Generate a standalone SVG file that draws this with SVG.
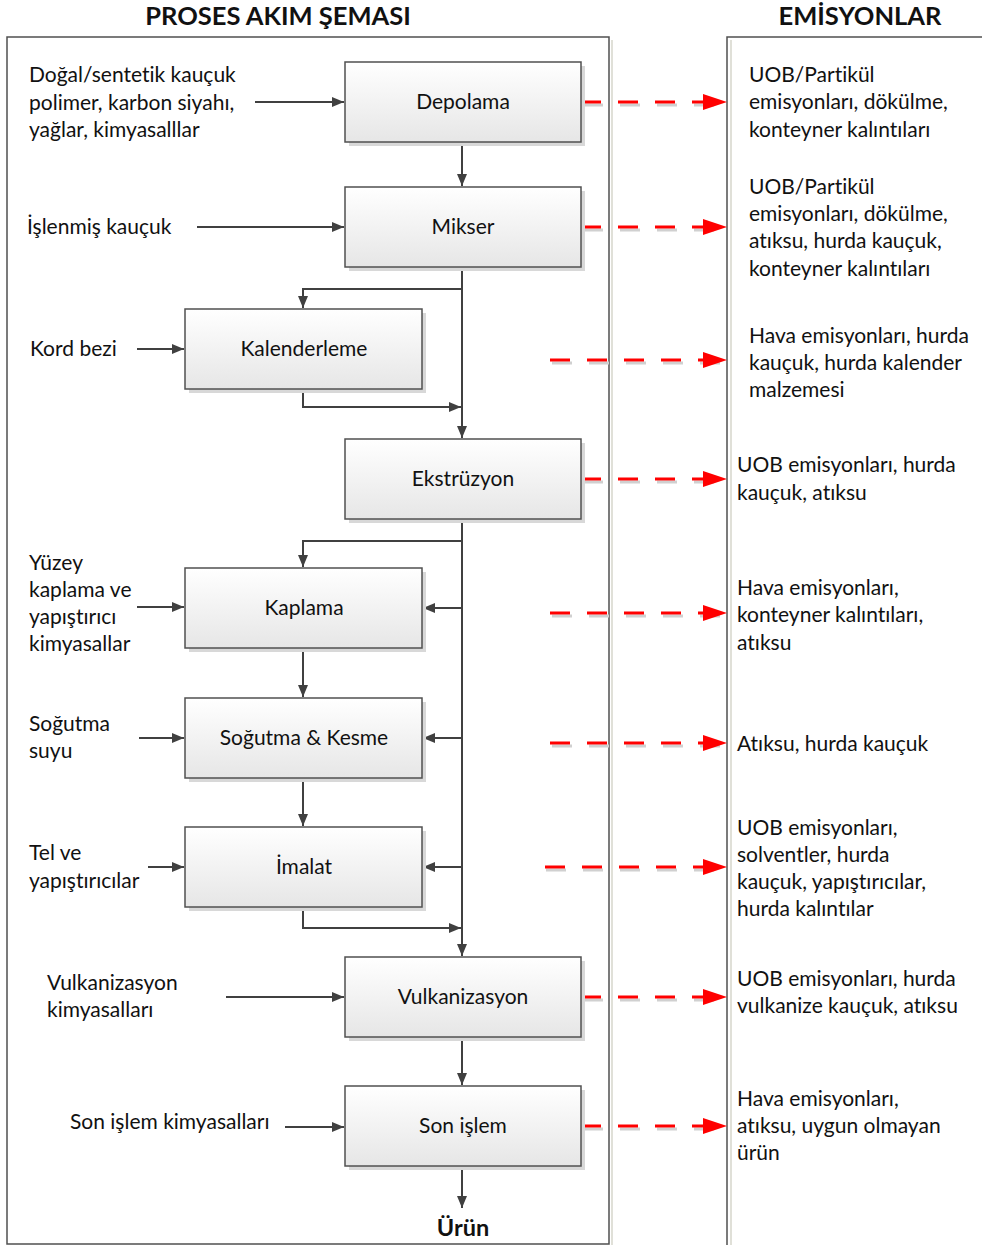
<svg xmlns="http://www.w3.org/2000/svg" width="982" height="1245" viewBox="0 0 982 1245">
<defs>
<linearGradient id="bg" x1="0" y1="0" x2="0" y2="1">
<stop offset="0" stop-color="#ffffff"/>
<stop offset="1" stop-color="#e6e6e6"/>
</linearGradient>
<marker id="ah" markerWidth="12" markerHeight="10" refX="12" refY="5" orient="auto" markerUnits="userSpaceOnUse">
<path d="M0,0 L12,5 L0,10 Z" fill="#404040"/>
</marker>
<marker id="rh" markerWidth="24" markerHeight="16" refX="24" refY="8" orient="auto" markerUnits="userSpaceOnUse">
<path d="M0,0 L24,8 L0,16 Z" fill="#ff0000"/>
</marker>
</defs>
<style>
text{font-family:Lato,"Open Sans","Liberation Sans",sans-serif;font-size:21px;fill:#111;font-variant-ligatures:none}
.t{font-weight:bold;font-size:25.5px;text-anchor:middle}
.c{text-anchor:middle}
.box{fill:url(#bg);stroke:#505050;stroke-width:1.5}
.sh{fill:#d8d8d8}
.ln{fill:none;stroke:#404040;stroke-width:2}
.rd{fill:none;stroke:#ff0000;stroke-width:3;stroke-dasharray:20,17}
.rds{fill:none;stroke:#d0d0d0;stroke-width:3;stroke-dasharray:20,17}
.fr{fill:none;stroke:#505050;stroke-width:1.5}
.frs{fill:none;stroke:#e0e0d8;stroke-width:2}
</style>
<text class="t" x="278" y="25">PROSES AKIM ŞEMASI</text>
<text class="t" x="860" y="25">EMİSYONLAR</text>
<g id="frames">
<path class="frs" d="M612,40 V1245"/>
<path class="fr" d="M7,37 H609 V1244 H7 Z"/>
<path class="frs" d="M731,40 V1245"/>
<path class="fr" d="M982,37 H727 V1245"/>
</g>
<g id="connectors">
<path class="ln" d="M255,102 H344" marker-end="url(#ah)"/>
<path class="ln" d="M197,227 H344" marker-end="url(#ah)"/>
<path class="ln" d="M137,349 H184" marker-end="url(#ah)"/>
<path class="ln" d="M137,607 H184" marker-end="url(#ah)"/>
<path class="ln" d="M139,738 H184" marker-end="url(#ah)"/>
<path class="ln" d="M148,867 H184" marker-end="url(#ah)"/>
<path class="ln" d="M226,997 H344" marker-end="url(#ah)"/>
<path class="ln" d="M285,1127 H344" marker-end="url(#ah)"/>
<path class="ln" d="M462,142 V186" marker-end="url(#ah)"/>
<path class="ln" d="M462,267 V438" marker-end="url(#ah)"/>
<path class="ln" d="M462,289 H303 V308" marker-end="url(#ah)"/>
<path class="ln" d="M303,389 V407 H461" marker-end="url(#ah)"/>
<path class="ln" d="M462,519 V956" marker-end="url(#ah)"/>
<path class="ln" d="M462,541 H303 V567" marker-end="url(#ah)"/>
<path class="ln" d="M462,608 H423" marker-end="url(#ah)"/>
<path class="ln" d="M462,738 H423" marker-end="url(#ah)"/>
<path class="ln" d="M462,867 H423" marker-end="url(#ah)"/>
<path class="ln" d="M303,648 V697" marker-end="url(#ah)"/>
<path class="ln" d="M303,778 V826" marker-end="url(#ah)"/>
<path class="ln" d="M303,907 V928 H461" marker-end="url(#ah)"/>
<path class="ln" d="M462,1037 V1085" marker-end="url(#ah)"/>
<path class="ln" d="M462,1166 V1208" marker-end="url(#ah)"/>
<g id="emissions">
<path class="rds" d="M583,105 H725 M583,230 H725 M552,363 H725 M583,482 H725 M552,616 H725 M552,746 H725 M546,870 H725 M583,1000 H725 M583,1129 H725"/>
<path class="rd" d="M581,102 H727" marker-end="url(#rh)"/>
<path class="rd" d="M581,227 H727" marker-end="url(#rh)"/>
<path class="rd" d="M550,360 H727" marker-end="url(#rh)"/>
<path class="rd" d="M581,479 H727" marker-end="url(#rh)"/>
<path class="rd" d="M550,613 H727" marker-end="url(#rh)"/>
<path class="rd" d="M550,743 H727" marker-end="url(#rh)"/>
<path class="rd" d="M545,867 H727" marker-end="url(#rh)"/>
<path class="rd" d="M581,997 H727" marker-end="url(#rh)"/>
<path class="rd" d="M581,1126 H727" marker-end="url(#rh)"/>
</g>
</g>
<g id="depolama"><rect class="sh" x="349" y="66" width="236" height="80"/><rect class="box" x="345" y="62" width="236" height="80"/><text class="c" x="463" y="109">Depolama</text></g>
<g id="mikser"><rect class="sh" x="349" y="191" width="236" height="80"/><rect class="box" x="345" y="187" width="236" height="80"/><text class="c" x="463" y="234">Mikser</text></g>
<g id="kalenderleme"><rect class="sh" x="189" y="313" width="237" height="80"/><rect class="box" x="185" y="309" width="237" height="80"/><text class="c" x="304" y="356">Kalenderleme</text></g>
<g id="ekstruzyon"><rect class="sh" x="349" y="443" width="236" height="80"/><rect class="box" x="345" y="439" width="236" height="80"/><text class="c" x="463" y="486">Ekstrüzyon</text></g>
<g id="kaplama"><rect class="sh" x="189" y="572" width="237" height="80"/><rect class="box" x="185" y="568" width="237" height="80"/><text class="c" x="304" y="615">Kaplama</text></g>
<g id="sogutma"><rect class="sh" x="189" y="702" width="237" height="80"/><rect class="box" x="185" y="698" width="237" height="80"/><text class="c" x="304" y="745">Soğutma &amp; Kesme</text></g>
<g id="imalat"><rect class="sh" x="189" y="831" width="237" height="80"/><rect class="box" x="185" y="827" width="237" height="80"/><text class="c" x="304" y="874">İmalat</text></g>
<g id="vulkanizasyon"><rect class="sh" x="349" y="961" width="236" height="80"/><rect class="box" x="345" y="957" width="236" height="80"/><text class="c" x="463" y="1004">Vulkanizasyon</text></g>
<g id="sonislem"><rect class="sh" x="349" y="1090" width="236" height="80"/><rect class="box" x="345" y="1086" width="236" height="80"/><text class="c" x="463" y="1133">Son işlem</text></g>
<g id="urun"><text class="c" x="463" y="1236" style="font-weight:bold;font-size:23.5px">Ürün</text></g>
<g id="inputs">
<text x="29" y="82">Doğal/sentetik kauçuk</text>
<text x="29" y="110">polimer, karbon siyahı,</text>
<text x="29" y="137">yağlar, kimyasalllar</text>
<text x="27" y="234">İşlenmiş kauçuk</text>
<text x="30" y="356">Kord bezi</text>
<text x="29" y="570">Yüzey</text>
<text x="29" y="597">kaplama ve</text>
<text x="29" y="624">yapıştırıcı</text>
<text x="29" y="651">kimyasallar</text>
<text x="29" y="731">Soğutma</text>
<text x="29" y="758">suyu</text>
<text x="29" y="860">Tel ve</text>
<text x="29" y="888">yapıştırıcılar</text>
<text x="47" y="990">Vulkanizasyon</text>
<text x="47" y="1017">kimyasalları</text>
<text x="70" y="1129">Son işlem kimyasalları</text>
</g>
<g id="outputs">
<text x="749" y="82">UOB/Partikül</text>
<text x="749" y="109">emisyonları, dökülme,</text>
<text x="749" y="137">konteyner kalıntıları</text>
<text x="749" y="194">UOB/Partikül</text>
<text x="749" y="221">emisyonları, dökülme,</text>
<text x="749" y="248">atıksu, hurda kauçuk,</text>
<text x="749" y="276">konteyner kalıntıları</text>
<text x="749" y="343">Hava emisyonları, hurda</text>
<text x="749" y="370">kauçuk, hurda kalender</text>
<text x="749" y="397">malzemesi</text>
<text x="737" y="472">UOB emisyonları, hurda</text>
<text x="737" y="500">kauçuk, atıksu</text>
<text x="737" y="595">Hava emisyonları,</text>
<text x="737" y="622">konteyner kalıntıları,</text>
<text x="737" y="650">atıksu</text>
<text x="737" y="751">Atıksu, hurda kauçuk</text>
<text x="737" y="835">UOB emisyonları,</text>
<text x="737" y="862">solventler, hurda</text>
<text x="737" y="889">kauçuk, yapıştırıcılar,</text>
<text x="737" y="916">hurda kalıntılar</text>
<text x="737" y="986">UOB emisyonları, hurda</text>
<text x="737" y="1013">vulkanize kauçuk, atıksu</text>
<text x="737" y="1106">Hava emisyonları,</text>
<text x="737" y="1133">atıksu, uygun olmayan</text>
<text x="737" y="1160">ürün</text>
</g>
</svg>
